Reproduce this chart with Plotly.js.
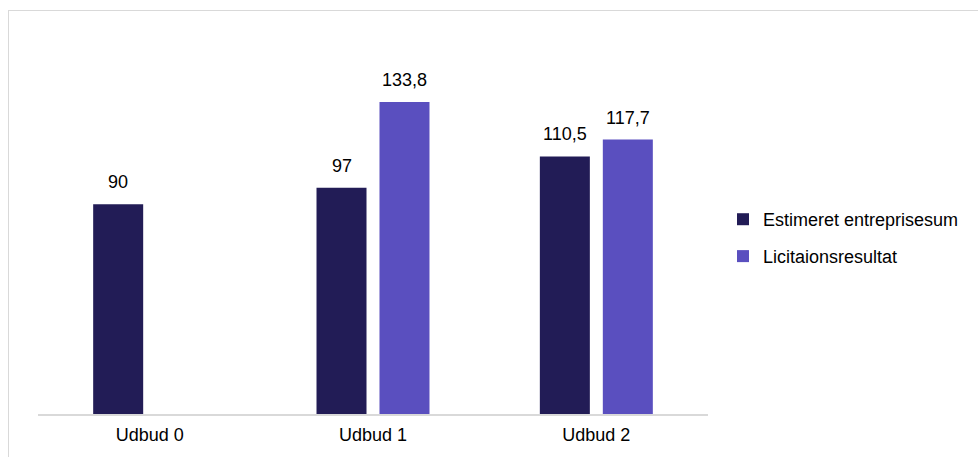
<!DOCTYPE html>
<html>
<head>
<meta charset="utf-8">
<script src="https://cdn.plot.ly/plotly-3.0.1.min.js"></script>
<style>
  html, body { margin: 0; padding: 0; background: #fff; overflow: hidden; }
  #wrap { position: relative; width: 978px; height: 457px; }
  #chart { position: absolute; left: 0; top: 0; width: 978px; height: 457px; }
  #frame { position: absolute; left: 8px; top: 10px; width: 1100px; height: 600px;
           border: 1.5px solid #d9d9d9; pointer-events: none; }
</style>
</head>
<body>
<div id="wrap">
  <div id="chart"></div>
  <div id="frame"></div>
</div>
<script>
// Tender rounds and amounts (mio. kr.)
const categories = ['Udbud 0', 'Udbud 1', 'Udbud 2'];
const estimeret = [90, 97, 110.5];
const licitation = [null, 133.8, 117.7];
const seriesNames = ['Estimeret entreprisesum', 'Licitaionsresultat'];
const seriesColors = ['#221C56', '#5A4FBF'];

const FONT = 'Liberation Sans, Arial, sans-serif';
const fmt = v => String(v).replace('.', ',');

const traces = [estimeret, licitation].map((vals, k) => ({
  type: 'bar',
  name: seriesNames[k],
  legendgroup: 'g' + k,
  x: categories,
  y: vals,
  marker: { color: seriesColors[k] },
  hoverinfo: 'skip'
}));

// Value labels above each bar, positioned from the same values
const groupOffset = 0.141;
const annotations = [];
[estimeret, licitation].forEach((vals, k) => {
  vals.forEach((v, i) => {
    if (v === null) return;
    annotations.push({
      xref: 'x', yref: 'y',
      x: i + (k === 0 ? -groupOffset : groupOffset),
      y: v,
      text: fmt(v),
      showarrow: false,
      yanchor: 'bottom',
      yshift: 10,
      font: { family: FONT, size: 18, color: '#000' }
    });
  });
});

const layout = {
  width: 978, height: 457,
  margin: { l: 38, r: 270, t: 41, b: 43 },
  paper_bgcolor: 'rgba(0,0,0,0)',
  plot_bgcolor: 'rgba(0,0,0,0)',
  barmode: 'group',
  bargap: 0.436,
  bargroupgap: 0.206,
  font: { family: FONT, size: 18, color: '#000' },
  xaxis: {
    type: 'category',
    showline: true, linecolor: '#d9d9d9', linewidth: 2,
    ticks: '', showgrid: false, zeroline: false,
    ticklabelstandoff: 3,
    tickfont: { family: FONT, size: 18, color: '#000' },
    fixedrange: true
  },
  yaxis: {
    range: [0, 160],
    showgrid: false, zeroline: false, showline: false,
    showticklabels: false, ticks: '', fixedrange: true
  },
  showlegend: true,
  legend: {
    x: 1.0224, xanchor: 'left',
    y: 0.571, yanchor: 'top',
    font: { family: FONT, size: 18, color: '#000' },
    tracegroupgap: 10.5,
    itemwidth: 30,
    bgcolor: 'rgba(0,0,0,0)'
  },
  annotations: annotations
};

Plotly.newPlot('chart', traces, layout, { staticPlot: true, displayModeBar: false });
</script>
</body>
</html>
